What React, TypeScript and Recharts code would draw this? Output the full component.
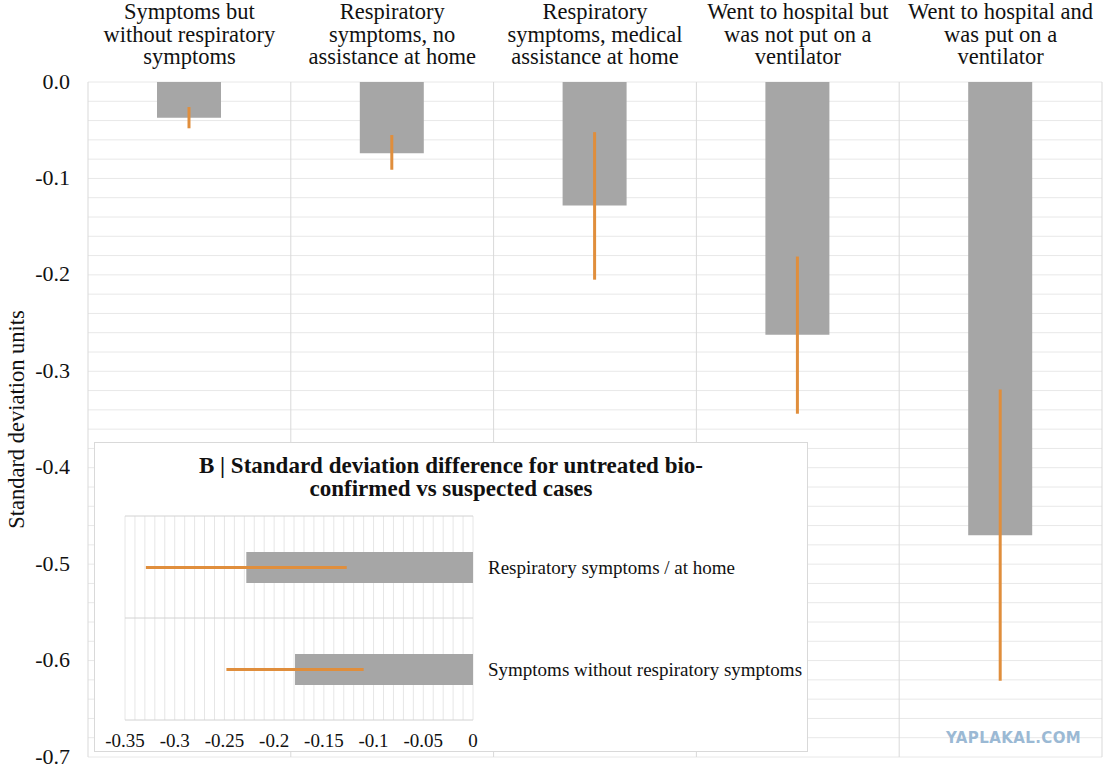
import React from "react";
import { Bar, BarChart, CartesianGrid, ErrorBar, XAxis, YAxis } from "recharts";

// main panel: SD units by severity group
const categories = [
  "Symptoms but\nwithout respiratory\nsymptoms",
  "Respiratory\nsymptoms, no\nassistance at home",
  "Respiratory\nsymptoms, medical\nassistance at home",
  "Went to hospital but\nwas not put on a\nventilator",
  "Went to hospital and\nwas put on a\nventilator",
];
const means = [-0.037, -0.074, -0.128, -0.262, -0.47];
const lows = [-0.048, -0.091, -0.205, -0.344, -0.621];
const highs = [-0.026, -0.055, -0.052, -0.181, -0.319];
const yTicks = [0, -0.1, -0.2, -0.3, -0.4, -0.5, -0.6, -0.7];
const yMinorTicks = [
  0, -0.02, -0.04, -0.06, -0.08, -0.1, -0.12, -0.14, -0.16, -0.18, -0.2, -0.22,
  -0.24, -0.26, -0.28, -0.3, -0.32, -0.34, -0.36, -0.38, -0.4, -0.42, -0.44,
  -0.46, -0.48, -0.5, -0.52, -0.54, -0.56, -0.58, -0.6, -0.62, -0.64, -0.66,
  -0.68, -0.7,
];

// inset B: bio-confirmed vs suspected
const insetCategories = [
  "Respiratory symptoms / at home",
  "Symptoms without respiratory symptoms",
];
const insetMeans = [-0.228, -0.179];
const insetLows = [-0.329, -0.248];
const insetHighs = [-0.127, -0.11];
const insetTicks = [-0.35, -0.3, -0.25, -0.2, -0.15, -0.1, -0.05, 0];
const insetMinorTicks = [
  -0.35, -0.34, -0.33, -0.32, -0.31, -0.3, -0.29, -0.28, -0.27, -0.26, -0.25,
  -0.24, -0.23, -0.22, -0.21, -0.2, -0.19, -0.18, -0.17, -0.16, -0.15, -0.14,
  -0.13, -0.12, -0.11, -0.1, -0.09, -0.08, -0.07, -0.06, -0.05, -0.04, -0.03,
  -0.02, -0.01, 0,
];

const SERIF = "Liberation Serif";
const INK = "#111";
const BAR = "#a6a6a6";
const ORANGE = "#e08e3c";

const mainData = categories.map((name, i) => ({
  name,
  value: means[i],
  err: [means[i] - lows[i], highs[i] - means[i]],
}));

const insetData = insetCategories.map((name, i) => ({
  name,
  value: insetMeans[i],
  err: [insetMeans[i] - insetLows[i], insetHighs[i] - insetMeans[i]],
}));

// edges of the category bands
function bandEdges(axis: any, cats: string[], start: number, size: number): number[] {
  const s = axis?.scale;
  const at = (c: string) =>
    typeof s === "function" ? s(c) : s && typeof s.map === "function" ? s.map(c) : undefined;
  const bw = s && typeof s.bandwidth === "function" ? s.bandwidth() : undefined;
  const first = at(cats[0]);
  if (typeof first === "number" && typeof bw === "number" && bw > 0) {
    const edges = cats.map((c) => at(c) as number);
    edges.push(edges[edges.length - 1] + bw);
    return edges;
  }
  return [...cats.map((_, i) => start + (i * size) / cats.length), start + size];
}

// three-line column heading, one text element with tspans
function CategoryTick(props: any) {
  const { x, y, payload } = props;
  const lines = String(payload.value).split("\n");
  return (
    <text
      x={x}
      y={y - 71}
      textAnchor="middle"
      dominantBaseline="central"
      fontSize={22.5}
      fontFamily={SERIF}
      fill={INK}
    >
      {lines.map((line: string, i: number) => (
        <tspan key={i} x={x} dy={i === 0 ? 0 : 22.5}>
          {line}
        </tspan>
      ))}
    </text>
  );
}

// plain serif tick text; anchor/baseline passed per axis
function SerifTick(props: any) {
  const { x, y, payload, anchor, baseline, size, format } = props;
  const label = format ? format(payload.value) : String(payload.value);
  return (
    <text
      x={x}
      y={y}
      textAnchor={anchor}
      dominantBaseline={baseline}
      fontSize={size}
      fontFamily={SERIF}
      fill={INK}
    >
      {label}
    </text>
  );
}

function YTitle(props: any) {
  const { viewBox } = props;
  const cx = viewBox.x + 16;
  const cy = viewBox.y + viewBox.height / 2;
  return (
    <text
      x={cx}
      y={cy}
      transform={`rotate(-90, ${cx}, ${cy})`}
      textAnchor="middle"
      dominantBaseline="central"
      fontSize={22.5}
      fontFamily={SERIF}
      fill={INK}
    >
      Standard deviation units
    </text>
  );
}

function Inset() {
  return (
    <div
      style={{
        position: "absolute",
        left: 94,
        top: 442,
        width: 714,
        height: 310,
        boxSizing: "border-box",
        border: "1px solid #d9d9d9",
        background: "#fff",
      }}
    >
      <div
        style={{
          position: "absolute",
          top: 11,
          left: 0,
          width: "100%",
          textAlign: "center",
          fontFamily: SERIF,
          fontWeight: "bold",
          fontSize: 23,
          lineHeight: "23px",
          color: INK,
        }}
      >
        B | Standard deviation difference for untreated bio-
        <br />
        confirmed vs suspected cases
      </div>
      <div style={{ position: "absolute", left: -1, top: -1 }}>
        <BarChart
          layout="vertical"
          width={714}
          height={310}
          data={insetData}
          margin={{ top: 74, right: 0, bottom: 0, left: 31 }}
        >
          <CartesianGrid horizontal={false} verticalValues={insetMinorTicks} stroke="#e6e6e6" />
          <CartesianGrid
            vertical={false}
            stroke="#d2d2d2"
            horizontalCoordinatesGenerator={({ yAxis, offset }: any) =>
              bandEdges(yAxis, insetCategories, offset.top, offset.height)
            }
          />
          <XAxis
            type="number"
            domain={[-0.35, 0]}
            ticks={insetTicks}
            height={32}
            tickLine={false}
            axisLine={false}
            tickSize={0}
            tickMargin={0}
            interval={0}
            tick={(p: any) => (
              <SerifTick {...p} y={p.y + 20} anchor="middle" baseline="central" size={19} />
            )}
          />
          <YAxis
            type="category"
            dataKey="name"
            orientation="right"
            width={335}
            tickLine={false}
            axisLine={false}
            tickSize={0}
            tickMargin={0}
            tick={(p: any) => (
              <SerifTick {...p} x={p.x + 15} anchor="start" baseline="central" size={19} />
            )}
          />
          <Bar dataKey="value" fill={BAR} barSize={31} isAnimationActive={false}>
            <ErrorBar dataKey="err" direction="x" width={0} strokeWidth={3} stroke={ORANGE} />
          </Bar>
        </BarChart>
      </div>
    </div>
  );
}

export default function App() {
  return (
    <div
      style={{
        position: "absolute",
        left: 0,
        top: 0,
        width: 1108,
        height: 768,
        background: "#fff",
        fontFamily: SERIF,
        overflow: "hidden",
      }}
    >
      <BarChart
        width={1108}
        height={768}
        data={mainData}
        margin={{ top: 0, right: 6, bottom: 11, left: 0 }}
      >
        <CartesianGrid vertical={false} horizontalValues={yMinorTicks} stroke="#e8e8e8" />
        <CartesianGrid
          horizontal={false}
          stroke="#d9d9d9"
          verticalCoordinatesGenerator={({ xAxis, offset }: any) =>
            bandEdges(xAxis, categories, offset.left, offset.width)
          }
        />
        <XAxis
          dataKey="name"
          orientation="top"
          height={82}
          tickLine={false}
          axisLine={false}
          tickSize={0}
          tickMargin={0}
          interval={0}
          tick={(p: any) => <CategoryTick {...p} />}
        />
        <YAxis
          domain={[-0.7, 0]}
          ticks={yTicks}
          width={88}
          tickLine={false}
          axisLine={false}
          tickSize={0}
          tickMargin={0}
          interval={0}
          tick={(p: any) => (
            <SerifTick
              {...p}
              x={70}
              y={p.y - 1}
              anchor="end"
              baseline="central"
              size={22}
              format={(v: number) => v.toFixed(1)}
            />
          )}
          label={(p: any) => <YTitle {...p} />}
        />
        <Bar dataKey="value" fill={BAR} barSize={64} isAnimationActive={false}>
          <ErrorBar dataKey="err" direction="y" width={0} strokeWidth={3} stroke={ORANGE} />
        </Bar>
      </BarChart>
      <Inset />
      <div
        style={{
          position: "absolute",
          left: 946,
          top: 729,
          fontFamily: "DejaVu Sans",
          fontWeight: "bold",
          fontSize: 15,
          letterSpacing: 0.4,
          color: "#9bb9d4",
        }}
      >
        YAPLAKAL.COM
      </div>
    </div>
  );
}
